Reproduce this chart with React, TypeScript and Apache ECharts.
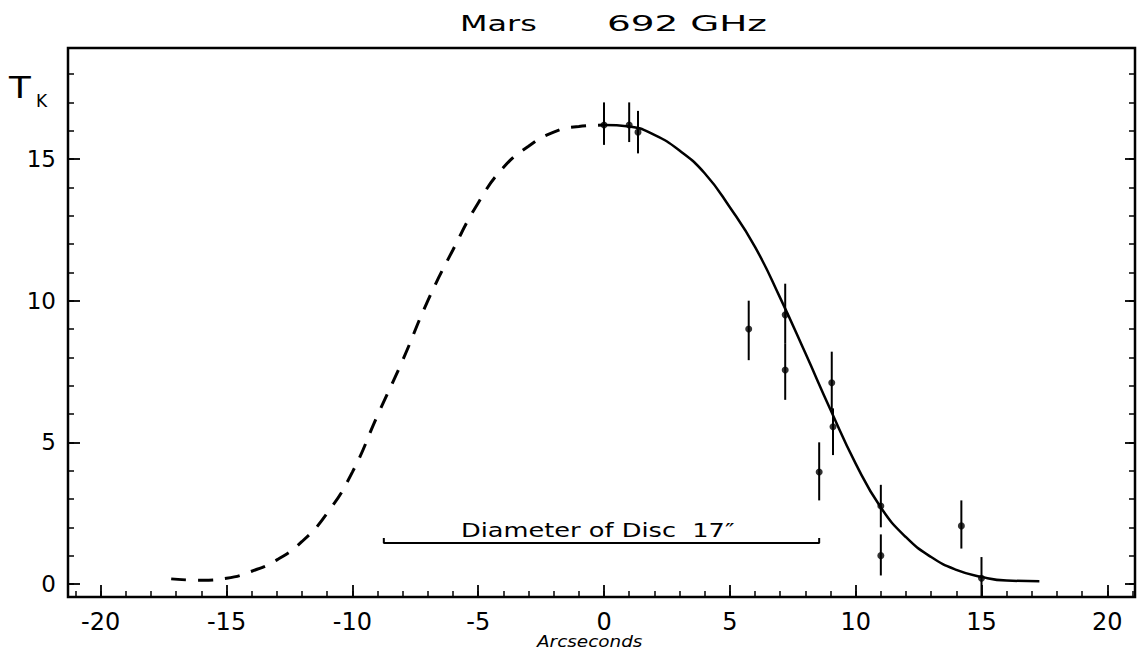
import React, { useEffect, useRef } from 'react';
import * as echarts from 'echarts';

// Dashed (mirrored) profile, left side
const dashedX = [-17.2, -16, -15, -14, -13, -12, -11, -10, -9, -8, -7, -6, -5, -4, -3, -2, -1, 0];
const dashedY = [0.18, 0.13, 0.2, 0.45, 0.85, 1.5, 2.5, 3.95, 5.95, 7.9, 10.0, 11.8, 13.45, 14.7, 15.45, 15.95, 16.15, 16.2];

// Solid model curve, right side
const solidX = [0, 1, 2, 3, 4, 5, 6, 7, 8, 9, 10, 11, 12, 13, 14, 15, 16, 17.3];
const solidY = [16.2, 16.15, 15.85, 15.3, 14.5, 13.3, 11.9, 10.1, 8.15, 6.15, 4.25, 2.7, 1.65, 0.95, 0.5, 0.25, 0.12, 0.1];

// Measured points with error bars
const pointX = [0, 1.0, 1.35, 5.75, 7.2, 7.2, 9.05, 9.1, 8.55, 11.0, 11.0, 14.2, 15.0];
const pointY = [16.2, 16.2, 15.95, 9.0, 9.5, 7.55, 7.1, 5.55, 3.95, 2.75, 1.0, 2.05, 0.2];
const errLow = [15.5, 15.6, 15.2, 7.9, 8.5, 6.5, 6.15, 4.55, 2.95, 2.0, 0.3, 1.25, -0.46];
const errHigh = [17.0, 17.0, 16.7, 10.0, 10.6, 8.5, 8.2, 6.2, 5.0, 3.5, 1.75, 2.95, 0.95];

// Disc diameter bar
const diamX = [-8.75, 8.55];
const diamY = 1.45;
const diamLabel = 'Diameter of Disc  17\u2033';

const xTickLabels = [-20, -15, -10, -5, 0, 5, 10, 15, 20];
const xMinorTicks = Array.from({ length: 43 }, (_, i) => i - 21);
const yTickLabels = [0, 5, 10, 15];
const yMinorTicks = Array.from({ length: 19 }, (_, i) => i);

const X_MIN = -21.3, X_MAX = 21.1, Y_MIN = -0.46, Y_MAX = 18.92;
const FONT = '"DejaVu Sans", "Liberation Sans", sans-serif';

export default function App() {
  const ref = useRef<HTMLDivElement>(null);
  useEffect(() => {
    if (!ref.current) return;
    const chart = echarts.init(ref.current, null, { renderer: 'svg' });
    const xBase = { type: 'value', min: X_MIN, max: X_MAX, splitLine: { show: false }, axisLine: { show: false, onZero: false } };
    const yBase = { type: 'value', min: Y_MIN, max: Y_MAX, splitLine: { show: false }, axisLine: { show: false, onZero: false } };
    chart.setOption({
      animation: false,
      backgroundColor: '#fff',
      grid: { left: 68, top: 48, right: 5, bottom: 62, show: true, borderColor: '#000', borderWidth: 2.5, backgroundColor: 'transparent' },
      xAxis: [
        {
          ...xBase, position: 'bottom',
          axisTick: { show: true, inside: true, length: 6, customValues: xMinorTicks, lineStyle: { color: '#000', width: 1.5 } },
          axisLabel: { show: true, customValues: xTickLabels, margin: 13, fontSize: 24, color: '#000', fontFamily: FONT },
        },
        {
          ...xBase, position: 'bottom',
          axisTick: { show: true, inside: true, length: 12, customValues: xTickLabels, lineStyle: { color: '#000', width: 1.8 } },
          axisLabel: { show: false },
        },
      ],
      yAxis: [
        {
          ...yBase, position: 'left',
          axisTick: { show: true, inside: true, length: 6, customValues: yMinorTicks, lineStyle: { color: '#000', width: 1.5 } },
          axisLabel: { show: true, customValues: yTickLabels, margin: 12, fontSize: 23, color: '#000', fontFamily: FONT },
        },
        {
          ...yBase, position: 'left',
          axisTick: { show: true, inside: true, length: 12, customValues: yTickLabels, lineStyle: { color: '#000', width: 1.8 } },
          axisLabel: { show: false },
        },
        {
          ...yBase, position: 'right',
          axisTick: { show: true, inside: true, length: 6, customValues: yMinorTicks, lineStyle: { color: '#000', width: 1.5 } },
          axisLabel: { show: false },
        },
        {
          ...yBase, position: 'right',
          axisTick: { show: true, inside: true, length: 10, customValues: yTickLabels, lineStyle: { color: '#000', width: 1.8 } },
          axisLabel: { show: false },
        },
      ],
      series: [
        {
          type: 'line', xAxisIndex: 0, yAxisIndex: 0, smooth: 0.5, showSymbol: false,
          data: dashedX.map((x, i) => [x, dashedY[i]]),
          lineStyle: { color: '#000', width: 3, type: [15, 12] },
        },
        {
          type: 'line', xAxisIndex: 0, yAxisIndex: 0, smooth: 0.5, showSymbol: false,
          data: solidX.map((x, i) => [x, solidY[i]]),
          lineStyle: { color: '#000', width: 2.5 },
        },
        {
          type: 'custom', xAxisIndex: 0, yAxisIndex: 0,
          data: pointX.map((x, i) => [x, errLow[i], errHigh[i]]),
          renderItem: (params: any, api: any) => {
            const x = api.value(0);
            const p1 = api.coord([x, api.value(1)]);
            const p2 = api.coord([x, api.value(2)]);
            return { type: 'line', shape: { x1: p1[0], y1: p1[1], x2: p2[0], y2: p2[1] }, style: { stroke: '#000', lineWidth: 2 } };
          },
        },
        {
          type: 'scatter', xAxisIndex: 0, yAxisIndex: 0, symbol: 'circle', symbolSize: 7,
          data: pointX.map((x, i) => [x, pointY[i]]),
          itemStyle: { color: '#000' },
        },
        {
          type: 'line', xAxisIndex: 0, yAxisIndex: 0, showSymbol: false,
          data: [[diamX[0], diamY + 0.17], [diamX[0], diamY], [diamX[1], diamY], [diamX[1], diamY + 0.17]],
          lineStyle: { color: '#000', width: 2 },
        },
        {
          type: 'custom', xAxisIndex: 0, yAxisIndex: 0,
          data: [[(diamX[0] + diamX[1]) / 2 - 0.15, diamY]],
          renderItem: (params: any, api: any) => {
            const p = api.coord([api.value(0), api.value(1)]);
            return {
              type: 'text', x: p[0], y: p[1] - 3, scaleX: 1.35,
              style: { text: diamLabel, fontSize: 19, fill: '#000', fontFamily: FONT, align: 'center', verticalAlign: 'bottom' },
            };
          },
        },
      ],
      graphic: [
        { type: 'text', x: 460, y: 12, scaleX: 1.45, style: { text: 'Mars', fontSize: 22, fill: '#000', fontFamily: FONT } },
        { type: 'text', x: 607, y: 12, scaleX: 1.7, style: { text: '692 GHz', fontSize: 22, fill: '#000', fontFamily: FONT } },
        { type: 'text', x: 9, y: 72, scaleX: 1.15, style: { text: 'T', fontSize: 31, fill: '#000', fontFamily: FONT } },
        { type: 'text', x: 36, y: 92, style: { text: 'K', fontSize: 17, fill: '#000', fontFamily: FONT } },
        { type: 'text', x: 537, y: 633, scaleX: 1.15, style: { text: 'Arcseconds', fontSize: 16, fontStyle: 'italic', fill: '#000', fontFamily: FONT } },
      ],
    });
    return () => chart.dispose();
  }, []);
  return <div ref={ref} style={{ position: 'fixed', left: 0, top: 0, width: 1140, height: 659, background: '#fff' }} />;
}
